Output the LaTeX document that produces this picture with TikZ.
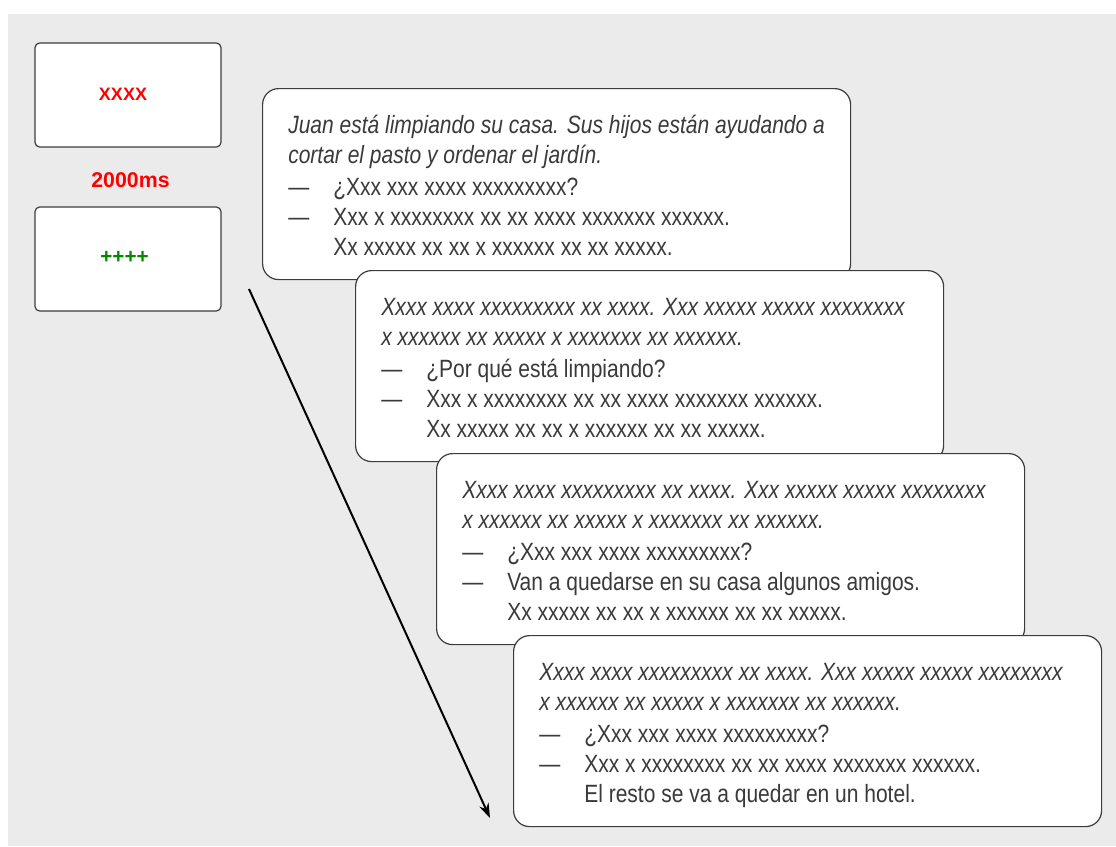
\documentclass[tikz,border=0pt]{standalone}
\usepackage{fontspec}
\setmainfont{Liberation Sans}
\newfontfamily\narrowsans[FakeStretch=0.84]{Liberation Sans}
\usetikzlibrary{calc,arrows.meta}
\definecolor{bggray}{HTML}{EBEBEB}
\definecolor{txtgray}{HTML}{3A3A3A}
\definecolor{edgegray}{HTML}{3C3C3C}
\definecolor{cuered}{HTML}{FF0000}
\definecolor{fixgreen}{HTML}{008A00}
\newcommand\dialogbox[6]{%
  \node[ital]  (#1-1)  at ($(#1.north west)+(26,45)$)  {#2};
  \node[ital]  (#1-2)  at ($(#1.north west)+(26,75)$)  {#3};
  \node[plain] (#1-d1) at ($(#1.north west)+(26,107)$) {—};
  \node[plain] (#1-3)  at ($(#1.north west)+(71,107)$) {#4};
  \node[plain] (#1-d2) at ($(#1.north west)+(26,137)$) {—};
  \node[plain] (#1-4)  at ($(#1.north west)+(71,137)$) {#5};
  \node[plain] (#1-5)  at ($(#1.north west)+(71,167)$) {#6};
}
\begin{document}
\begin{tikzpicture}[x=0.75pt,y=-0.75pt,
  stimbox/.style={draw=edgegray, line width=0.9pt, fill=white, rounded corners=3.5pt,
    minimum width=139.5pt, minimum height=78pt, inner sep=0pt},
  dialbox/.style={draw=edgegray, line width=0.9pt, fill=white, rounded corners=12pt,
    minimum width=441pt, minimum height=143.25pt, inner sep=0pt, anchor=north west},
  ital/.style={anchor=base west, inner sep=0pt, text=txtgray,
    font=\narrowsans\fontsize{18.75pt}{22pt}\selectfont\itshape},
  plain/.style={anchor=base west, inner sep=0pt, text=txtgray,
    font=\narrowsans\fontsize{18.75pt}{22pt}\selectfont},
  cue/.style={inner sep=0pt, font=\fontsize{#1}{#1}\selectfont\bfseries},
  flow/.style={-{Stealth[length=11pt,width=7.5pt]}, line width=1.5pt, black}
]
\useasboundingbox (0,0) rectangle (1116,846);
\fill[white] (0,0) rectangle (1116,846);
\fill[bggray] (8,14) rectangle (1116,846);

% stimulus screens
\node[stimbox] (scr1) at (128,95) {};
\node[stimbox] (scr2) at (128,259) {};
\node[cue=13.5pt, text=cuered] (xxxx) at (123,94) {XXXX};
\node[cue=16pt, text=cuered] (dur) at (130.5,180) {2000ms};
\node[cue=15.5pt, text=fixgreen] (plus) at (124.5,257) {++++};

% time arrow
\coordinate (arrS) at (249,289);
\coordinate (arrE) at (490,818);
\draw[flow] (arrS) -- (arrE);

% dialogue screens
\node[dialbox] (boxA) at (262,88) {};
\dialogbox{boxA}{Juan está limpiando su casa. Sus hijos están ayudando a}{cortar el pasto y ordenar el jardín.}{¿Xxx xxx xxxx xxxxxxxxx?}{Xxx x xxxxxxxx xx xx xxxx xxxxxxx xxxxxx.}{Xx xxxxx xx xx x xxxxxx xx xx xxxxx.}

\node[dialbox] (boxB) at (355,270) {};
\dialogbox{boxB}{Xxxx xxxx xxxxxxxxx xx xxxx. Xxx xxxxx xxxxx xxxxxxxx}{x xxxxxx xx xxxxx x xxxxxxx xx xxxxxx.}{¿Por qué está limpiando?}{Xxx x xxxxxxxx xx xx xxxx xxxxxxx xxxxxx.}{Xx xxxxx xx xx x xxxxxx xx xx xxxxx.}

\node[dialbox] (boxC) at (436,453) {};
\dialogbox{boxC}{Xxxx xxxx xxxxxxxxx xx xxxx. Xxx xxxxx xxxxx xxxxxxxx}{x xxxxxx xx xxxxx x xxxxxxx xx xxxxxx.}{¿Xxx xxx xxxx xxxxxxxxx?}{Van a quedarse en su casa algunos amigos.}{Xx xxxxx xx xx x xxxxxx xx xx xxxxx.}

\node[dialbox] (boxD) at (513,635) {};
\dialogbox{boxD}{Xxxx xxxx xxxxxxxxx xx xxxx. Xxx xxxxx xxxxx xxxxxxxx}{x xxxxxx xx xxxxx x xxxxxxx xx xxxxxx.}{¿Xxx xxx xxxx xxxxxxxxx?}{Xxx x xxxxxxxx xx xx xxxx xxxxxxx xxxxxx.}{El resto se va a quedar en un hotel.}
\end{tikzpicture}
\end{document}
